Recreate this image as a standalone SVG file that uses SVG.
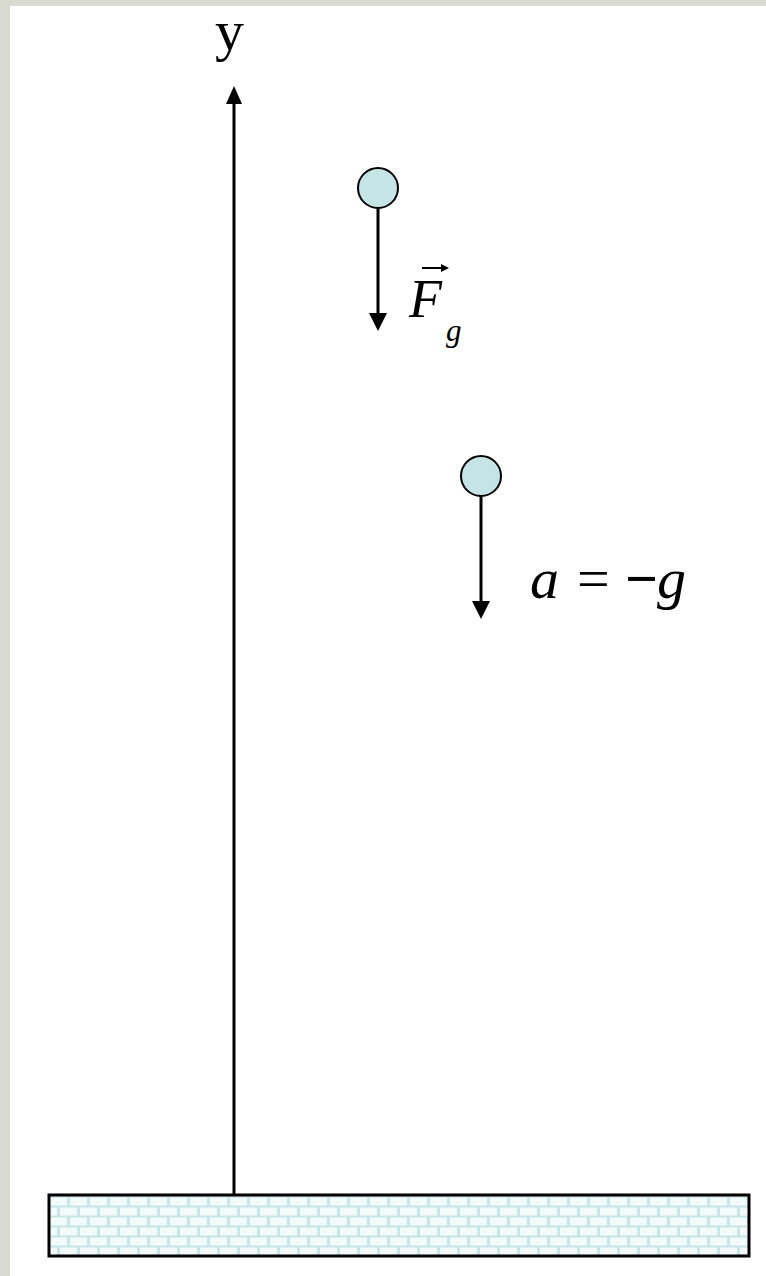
<svg xmlns="http://www.w3.org/2000/svg" width="766" height="1276" viewBox="0 0 766 1276">
<style>
.ln{stroke:#000;stroke-width:3;fill:none}
.ball{fill:#c4e4e6;stroke:#000;stroke-width:2}
.t{font-family:"Liberation Serif",serif;fill:#000}
.i{font-style:italic}
</style>
<defs>
<pattern id="brick" width="20" height="20" patternUnits="userSpaceOnUse" x="48" y="1196">
<rect width="20" height="20" fill="#c6e6e8"/>
<rect x="2" y="1.5" width="17" height="8" fill="#f3fafa"/>
<rect x="-8" y="11.5" width="17" height="8" fill="#f3fafa"/>
<rect x="12" y="11.5" width="17" height="8" fill="#f3fafa"/>
</pattern>
</defs>
<rect width="766" height="1276" fill="#d9dad2"/>
<rect x="10" y="6" width="756" height="1270" fill="#fff"/>
<g id="ground"><rect x="49" y="1195" width="700" height="61" fill="url(#brick)" stroke="#000" stroke-width="3"/></g>
<g id="connectors">
<line class="ln" x1="234" y1="1195" x2="234" y2="104"/>
<path d="M226,104 L234,86 L242,104 Z"/>
<line class="ln" x1="378" y1="208" x2="378" y2="314"/>
<path d="M369,313 L378,331 L387,313 Z"/>
<line class="ln" x1="481" y1="496" x2="481" y2="602"/>
<path d="M472,601 L481,619 L490,601 Z"/>
</g>
<g id="y-label"><text class="t" x="215" y="50" font-size="58">y</text></g>
<g id="ball1"><circle class="ball" cx="378" cy="188" r="20"/></g>
<g id="ball2"><circle class="ball" cx="481" cy="476" r="20"/></g>
<g id="fg-label">
<text class="t i" x="409" y="317" font-size="54">F</text>
<text class="t i" x="446" y="341" font-size="31">g</text>
<line x1="422" y1="268" x2="444" y2="268" stroke="#000" stroke-width="2"/>
<path d="M441,264 L449,268 L441,272 Z"/>
</g>
<g id="a-label">
<text class="t" y="598" font-size="58"><tspan class="i" x="530">a</tspan><tspan x="577">=</tspan><tspan x="625" font-weight="bold">−</tspan><tspan class="i" x="657">g</tspan></text>
</g>
</svg>
